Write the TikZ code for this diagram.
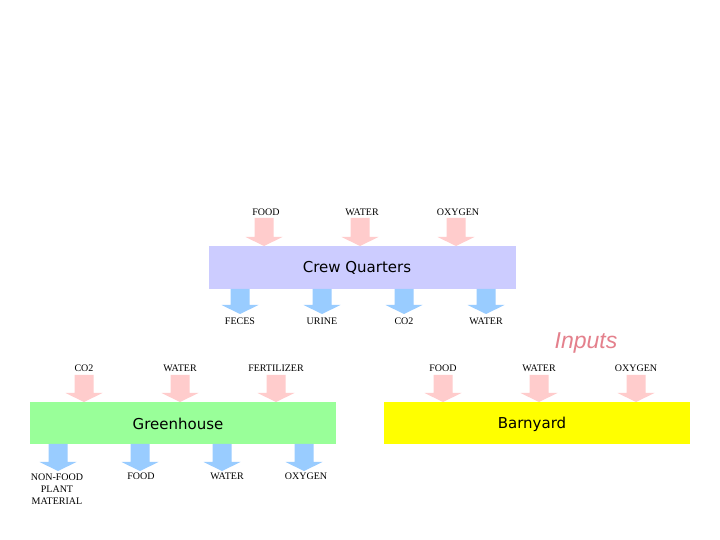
\documentclass[tikz,border=0pt]{standalone}
\usepackage{fontspec}
\setmainfont{Liberation Serif}
\newfontfamily\boxfont{DejaVu Sans}
\newfontfamily\inpfont{Liberation Sans}
\definecolor{inpink}{RGB}{255,204,204}
\definecolor{outblue}{RGB}{153,204,255}
\definecolor{crewcol}{RGB}{204,204,255}
\definecolor{greencol}{RGB}{153,255,153}
\definecolor{barncol}{RGB}{255,255,0}
\definecolor{inputsred}{RGB}{228,128,140}
% down block arrow: #1 colour, #2 x centre, #3 top y, #4 tip y
\newcommand\blockdown[4]{%
  \fill[#1] (#2-9.5,#3) -- (#2+9.5,#3) -- (#2+9.5,#4+9) -- (#2+18.5,#4+9)
    -- (#2,#4) -- (#2-18.5,#4+9) -- (#2-9.5,#4+9) -- cycle;}
\begin{document}
\begin{tikzpicture}[x=1pt,y=1pt,
  lbl/.style={font=\fontsize{10}{12}\selectfont, inner sep=0pt, align=center},
  boxlbl/.style={font=\boxfont\fontsize{15}{18}\selectfont, inner sep=0pt}]
\useasboundingbox (0,0) rectangle (720,540);
\fill[white] (0,0) rectangle (720,540);
% boxes
\fill[crewcol] (209,540-246) rectangle (516,540-289);
\fill[greencol] (30,540-402) rectangle (336,540-444);
\fill[barncol] (384,540-402) rectangle (690,540-444);
\node[boxlbl] (crew) at (357,540-268) {Crew Quarters};
\node[boxlbl] (green) at (178,540-424) {Greenhouse};
\node[boxlbl] (barn) at (532,540-424) {Barnyard};
\node[font=\inpfont\itshape\fontsize{23}{26}\selectfont, text=inputsred, inner sep=0pt] (inputs) at (586,540-343) {Inputs};
% crew inputs
\foreach \x/\t [count=\i] in {264/FOOD,360/WATER,456/OXYGEN}{
  \blockdown{inpink}{\x}{540-218}{540-246}
  \node[lbl] (ci\i) at (\x+2,540-212) {\t};}
% crew outputs
\foreach \x/\t [count=\i] in {240/FECES,322/URINE,404/CO2,486/WATER}{
  \blockdown{outblue}{\x}{540-289}{540-314}
  \node[lbl] (co\i) at (\x,540-321) {\t};}
% greenhouse inputs
\foreach \x/\t [count=\i] in {84/CO2,180/WATER,276/FERTILIZER}{
  \blockdown{inpink}{\x}{540-375}{540-402}
  \node[lbl] (gi\i) at (\x,540-368) {\t};}
% greenhouse outputs
\foreach \x in {58,140,222,304}{
  \blockdown{outblue}{\x}{540-444}{540-471}}
\node[lbl, anchor=north] (go1) at (57,540-474) {NON-FOOD\\PLANT\\MATERIAL};
\node[lbl] (go2) at (141,540-476) {FOOD};
\node[lbl] (go3) at (227,540-476) {WATER};
\node[lbl] (go4) at (306,540-476) {OXYGEN};
% barnyard inputs
\foreach \x/\t [count=\i] in {443/FOOD,539/WATER,636/OXYGEN}{
  \blockdown{inpink}{\x}{540-375}{540-402}
  \node[lbl] (bi\i) at (\x,540-368) {\t};}
\end{tikzpicture}
\end{document}
